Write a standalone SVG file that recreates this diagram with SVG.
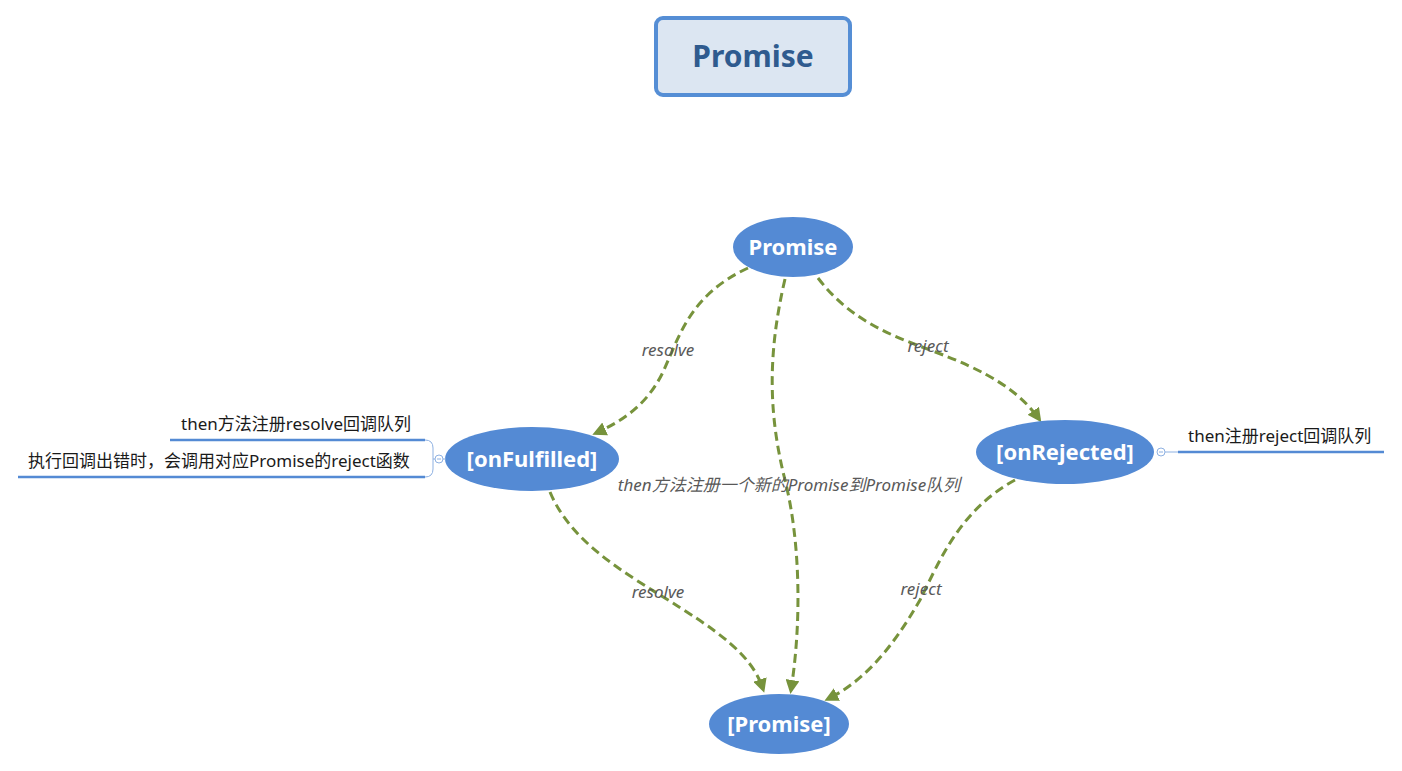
<svg xmlns="http://www.w3.org/2000/svg" width="1402" height="771" viewBox="0 0 1402 771">
<style>
.node{fill:#548ad4;}
.nt{font-family:"Noto Sans","Noto Sans CJK SC",sans-serif;font-weight:bold;font-size:22px;fill:#ffffff;text-anchor:middle;}
.edge{fill:none;stroke:#77933c;stroke-width:3;stroke-dasharray:9 5;}
.el{font-family:"Noto Sans","Noto Sans CJK SC",sans-serif;font-style:italic;font-size:17px;fill:#595959;text-anchor:middle;}
.note{font-family:"Noto Sans","Noto Sans CJK SC",sans-serif;font-size:17px;fill:#1a1a1a;}
.ul{fill:none;stroke:#548ad4;stroke-width:2.5;}
.thin{fill:none;stroke:#8eb1e2;stroke-width:1;}
</style>
<defs>
<marker id="arr" markerWidth="14" markerHeight="14" refX="10" refY="7" orient="auto" markerUnits="userSpaceOnUse" viewBox="0 0 14 14">
<path d="M0,0 L14,7 L0,14 Z" fill="#77933c"/>
</marker>
</defs>
<rect width="1402" height="771" fill="#ffffff"/>
<g id="title">
<rect x="656" y="18" width="194" height="77" rx="7" fill="#dce6f2" stroke="#558ed5" stroke-width="4"/>
<text x="753" y="67" font-family="Noto Sans,sans-serif" font-weight="bold" font-size="30" fill="#2f5b8f" text-anchor="middle">Promise</text>
</g>
<g id="connectors">
<path class="edge" d="M748,268 C690,295 680,335 663,372 C648,403 625,420 596,433" marker-end="url(#arr)"/>
<path class="edge" d="M785,279 C766,360 770,420 785,480 C800,540 802,620 791,690" marker-end="url(#arr)"/>
<path class="edge" d="M818,278 C850,320 890,335 930,350 C990,372 1020,392 1039,419" marker-end="url(#arr)"/>
<path class="edge" d="M550,492 C570,540 620,570 660,595 C720,632 752,655 763,689" marker-end="url(#arr)"/>
<path class="edge" d="M1015,480 C960,510 940,560 920,600 C890,652 862,682 828,699" marker-end="url(#arr)"/>
<text class="el" x="668" y="356">resolve</text>
<text class="el" x="928" y="352">reject</text>
<text class="el" x="789" y="491">then方法注册一个新的Promise到Promise队列</text>
<text class="el" x="658" y="598">resolve</text>
<text class="el" x="921" y="595">reject</text>
</g>
<g id="n-promise">
<ellipse class="node" cx="793" cy="247" rx="60" ry="30"/>
<text class="nt" x="793" y="255">Promise</text>
</g>
<g id="n-onfulfilled">
<ellipse class="node" cx="532" cy="459" rx="87" ry="32"/>
<text class="nt" x="532" y="467">[onFulfilled]</text>
</g>
<g id="n-onrejected">
<ellipse class="node" cx="1065" cy="452" rx="89" ry="32"/>
<text class="nt" x="1065" y="460">[onRejected]</text>
</g>
<g id="n-result">
<ellipse class="node" cx="779" cy="724" rx="70" ry="30"/>
<text class="nt" x="779" y="732">[Promise]</text>
</g>
<g id="notes-left">
<text class="note" x="181" y="430">then方法注册resolve回调队列</text>
<text class="note" x="28" y="467">执行回调出错时，会调用对应Promise的reject函数</text>
<path class="ul" d="M170,440 L425,440"/>
<path class="ul" d="M18,477 L425,477"/>
<path class="thin" d="M425,440 Q433,440 433,448 L433,469 Q433,477 425,477 M433,459 L435,459"/>
<circle cx="439" cy="459" r="4" fill="#ffffff" stroke="#8eb1e2" stroke-width="1"/>
<path class="thin" d="M437,459 L441,459 M443,459 L446,459"/>
</g>
<g id="notes-right">
<text class="note" x="1188" y="442">then注册reject回调队列</text>
<circle cx="1161" cy="452" r="4" fill="#ffffff" stroke="#8eb1e2" stroke-width="1"/>
<path class="thin" d="M1159,452 L1163,452 M1165,452 L1178,452"/>
<path class="ul" d="M1178,452 L1384,452"/>
</g>
</svg>
